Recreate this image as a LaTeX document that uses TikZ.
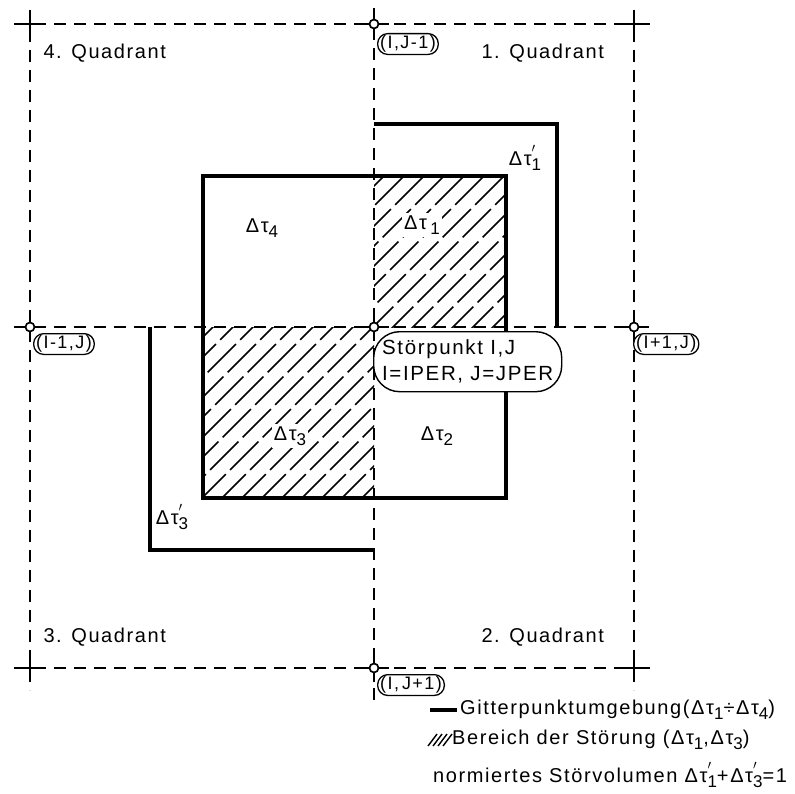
\documentclass[tikz,border=0pt]{standalone}
\usepackage{graphicx}
\usepackage{fontspec}
\usetikzlibrary{calc}
\setmainfont{Liberation Sans}[LetterSpace=8]
\newcommand\tsb[1]{\raisebox{-0.5ex}{\scalebox{0.85}{#1}}}
\newcommand\dtp[1]{Δτ\rlap{\raisebox{0.55ex}{\scalebox{0.9}{$'$}}}\raisebox{-0.5ex}{\scalebox{0.85}{#1}}}
\begin{document}
\begin{tikzpicture}[x=1pt,y=-1pt,
  dsh/.style={line width=1.6pt, dash pattern=on 12pt off 8pt},
  thk/.style={line width=3.5pt},
  crs/.style={line width=1.7pt},
  hatchline/.style={line width=1.5pt, dash pattern=on 40pt off 6pt},
  lbl/.style={draw, line width=1.3pt, rounded corners=10pt, fill=white, inner xsep=2.5pt, inner ysep=2pt, font=\fontsize{18}{20}\selectfont},
  quad/.style={font=\fontsize{20}{22}\selectfont},
  tau/.style={font=\fontsize{20}{22}\selectfont},
  leg/.style={font=\fontsize{20}{22}\selectfont, anchor=west, inner sep=0pt}]
\useasboundingbox (0,0) rectangle (795,794);

% grid points
\coordinate (TL) at (30,24);  \coordinate (TC) at (374,24);  \coordinate (TR) at (634,24);
\coordinate (ML) at (30,327); \coordinate (C)  at (374,327); \coordinate (MR) at (634,327);
\coordinate (BL) at (30,668); \coordinate (BC) at (374,668); \coordinate (BR) at (634,668);

% hatching quadrant 1 and 3
\begin{scope}
  \clip (374,176) rectangle (506,327);
  \foreach \c in {540,560,...,860} \draw[hatchline] (\c-400,400) -- (\c,0);
\end{scope}
\begin{scope}
  \clip (203,327) rectangle (374,498);
  \foreach \c in {520,540,...,880} \draw[hatchline] (\c-600,600) -- (\c,0);
\end{scope}

% dashed grid lines
\draw[dsh] (14,24) -- (650,24);
\draw[dsh] (14,327) -- (650,327);
\draw[dsh] (14,668) -- (650,668);
\draw[dsh] (30,10) -- (30,690);
\draw[dsh] (374,8) -- (374,700);
\draw[dsh] (634,10) -- (634,690);

% thick contours
\draw[thk] (203,176) rectangle (506,498);
\draw[thk] (374,124) -- (557,124) -- (557,327);
\draw[thk] (150,327) -- (150,550) -- (374,550);

% crosses at corners
\foreach \p in {TL,TR,BL,BR} {
  \draw[crs] ($(\p)+(-16,0)$) -- ($(\p)+(16,0)$);
  \draw[crs] ($(\p)+(0,-14)$) -- ($(\p)+(0,14)$);
}
% grid point circles
\foreach \p in {TC,ML,MR,BC,C} {
  \draw[crs] ($(\p)+(-15,0)$) -- ($(\p)+(15,0)$);
  \draw[crs] ($(\p)+(0,-14)$) -- ($(\p)+(0,14)$);
  \draw[line width=1.7pt, fill=white] (\p) circle (4.5);
}

% grid point labels
\node[lbl, anchor=north west] (lTC) at (377,33) {(I,J-1)};
\node[lbl, anchor=north west] (lML) at (33,333) {(I-1,J)};
\node[lbl, anchor=north west] (lMR) at (633,333) {(I+1,J)};
\node[lbl, anchor=north west] (lBC) at (377,674) {(I,\,J+1)};

% Störpunkt box
\node[draw, line width=1.4pt, rounded corners=26pt, fill=white, anchor=north west,
      minimum width=188, minimum height=60, align=left, inner xsep=4pt, inner ysep=3pt,
      font=\fontsize{20.5}{26}\selectfont] (stp) at (373,331)
      {Störpunkt I,J\\I=IPER, J=JPER};

% quadrant labels
\node[quad, anchor=west] (q4) at (40,53) {4. Quadrant};
\node[quad, anchor=west] (q1) at (478,53) {1. Quadrant};
\node[quad, anchor=west] (q3) at (40,637) {3. Quadrant};
\node[quad, anchor=west] (q2) at (478,637) {2. Quadrant};

% tau labels
\node[tau] (t4) at (262,228) {Δτ\tsb{4}};
\node[tau, fill=white, inner sep=2pt] (t1) at (422,225) {Δτ\,\tsb{1}};
\node[tau, fill=white, inner sep=2pt] (t3) at (290,436) {Δτ\tsb{3}};
\node[tau] (t2) at (437,436) {Δτ\tsb{2}};
\node[tau] (t1p) at (525,158) {\dtp{1}};
\node[tau] (t3p) at (172,517) {\dtp{3}};

% legend
\coordinate (la) at (430,710); \coordinate (lb) at (457,710);
\draw[thk] (la) -- (lb);
\node[leg] (g1) at (460,710) {Gitterpunktumgebung(Δτ\tsb{1}÷Δτ\tsb{4})};
\foreach \dx in {0,5,10,15} \draw[line width=1.4pt] (428+\dx,746) -- (437+\dx,734);
\node[leg] (g2) at (452,740) {Bereich der Störung (Δτ\tsb{1},Δτ\tsb{3})};
\node[leg] (g3) at (433,775) {normiertes Störvolumen \dtp{1}+\dtp{3}=1};
\end{tikzpicture}
\end{document}
